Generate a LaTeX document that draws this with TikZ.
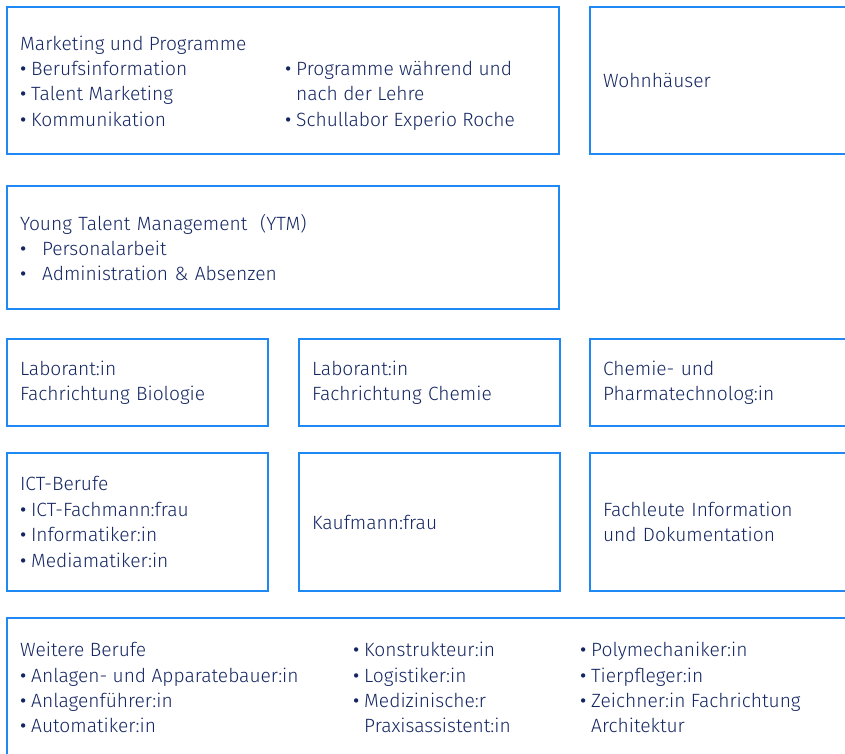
\documentclass[tikz,border=0pt]{standalone}
\usepackage{fontspec}
\setmainfont{Fira Sans}[UprightFont=* Light]
\newfontfamily\bulfont{Fira Sans}
\usepackage{tikz}
\usetikzlibrary{positioning}

\definecolor{boxblue}{RGB}{30,136,245}
\definecolor{txtnavy}{RGB}{20,38,98}

\newcommand{\bul}{\makebox[11pt][l]{\bulfont •}}
\newcommand{\bulw}{\makebox[22pt][l]{\bulfont •}}
\newcommand{\ind}{\hspace*{11pt}}

\begin{document}
\begin{tikzpicture}[x=1pt, y=-1pt,
    box/.style={draw=boxblue, line width=2.5pt, anchor=north west, inner sep=0pt,
        outer sep=0pt, inner xsep=13pt},
    txt/.style={text=txtnavy, align=left, inner sep=0pt,
        font=\fontsize{19.2}{25.4}\selectfont},
    lbl/.style={box, txt, inner xsep=13pt}]
    \useasboundingbox (0,0) rectangle (845,753);
    % top row
    \node[box, minimum width=552pt, minimum height=147pt] (mkt) at (7,7) {};
    \node[txt, anchor=west] (mktA) at (20,81) {Marketing und Programme\\
        \bul Berufsinformation\\ \bul Talent Marketing\\ \bul Kommunikation};
    \node[txt, anchor=north west] (mktB) at ([xshift=265pt, yshift=-25.4pt]mktA.north west)
        {\bul Programme während und\\ \ind nach der Lehre\\ \bul Schullabor Experio Roche};
    \node[lbl, minimum width=300pt, minimum height=147pt, text width=274pt] (wohn) at (590,7) {Wohnhäuser};
    % YTM
    \node[lbl, minimum width=552pt, minimum height=123pt, text width=526pt] (ytm) at (7,186)
        {Young Talent Management\ \ (YTM)\\ \bulw Personalarbeit\\ \bulw Administration \& Absenzen};
    % Laborant row
    \node[lbl, minimum width=261pt, minimum height=87pt, text width=235pt] (labbio) at (7,339)
        {Laborant:in\\Fachrichtung Biologie};
    \node[lbl, minimum width=261pt, minimum height=87pt, text width=235pt] (labchem) at (299,339)
        {Laborant:in\\Fachrichtung Chemie};
    \node[lbl, minimum width=300pt, minimum height=87pt, text width=274pt] (chemtech) at (590,339)
        {Chemie- und\\Pharmatechnolog:in};
    % ICT row
    \node[lbl, minimum width=261pt, minimum height=138pt, text width=235pt] (ict) at (7,453)
        {ICT-Berufe\\ \bul ICT-Fachmann:frau\\ \bul Informatiker:in\\ \bul Mediamatiker:in};
    \node[lbl, minimum width=261pt, minimum height=138pt, text width=235pt] (kauf) at (299,453)
        {Kaufmann:frau};
    \node[lbl, minimum width=300pt, minimum height=138pt, text width=274pt] (fachleute) at (590,453)
        {Fachleute Information\\und Dokumentation};
    % Weitere Berufe
    \node[box, minimum width=900pt, minimum height=150pt] (weitere) at (7,618) {};
    \node[txt, anchor=north west] (weiA) at (20,642)
        {Weitere Berufe\\ \bul Anlagen- und Apparatebauer:in\\ \bul Anlagenführer:in\\ \bul Automatiker:in};
    \node[txt, anchor=north west] (weiB) at (353,642)
        {\bul Konstrukteur:in\\ \bul Logistiker:in\\ \bul Medizinische:r\\ \ind Praxisassistent:in};
    \node[txt, anchor=north west] (weiC) at (580,642)
        {\bul Polymechaniker:in\\ \bul Tierpfleger:in\\ \bul Zeichner:in Fachrichtung\\ \ind Architektur};
\end{tikzpicture}
\end{document}
